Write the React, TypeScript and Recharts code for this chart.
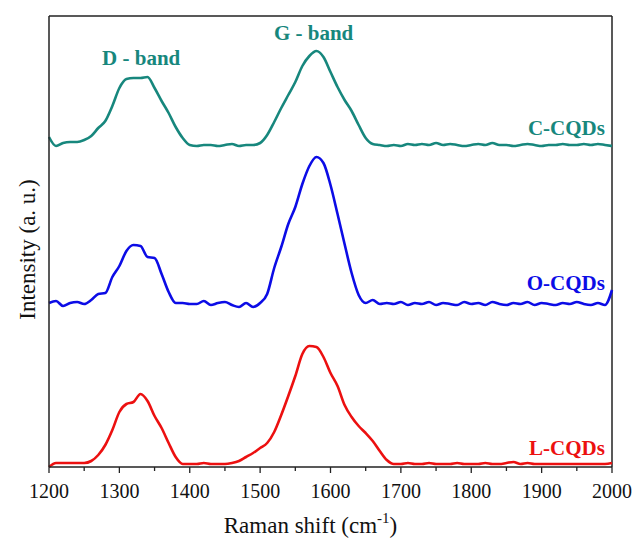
import { Label, Line, LineChart, ReferenceDot, ReferenceLine, XAxis, YAxis } from 'recharts';

// Raman shift (cm-1), every 10 from 1200 to 2000
const shifts = [
  1200, 1210, 1220, 1230, 1240, 1250, 1260, 1270, 1280, 1290, 1300, 1310, 1320, 1330, 1340, 1350, 1360,
  1370, 1380, 1390, 1400, 1410, 1420, 1430, 1440, 1450, 1460, 1470, 1480, 1490, 1500, 1510, 1520, 1530,
  1540, 1550, 1560, 1570, 1580, 1590, 1600, 1610, 1620, 1630, 1640, 1650, 1660, 1670, 1680, 1690, 1700,
  1710, 1720, 1730, 1740, 1750, 1760, 1770, 1780, 1790, 1800, 1810, 1820, 1830, 1840, 1850, 1860, 1870,
  1880, 1890, 1900, 1910, 1920, 1930, 1940, 1950, 1960, 1970, 1980, 1990, 2000,
];

// stacked intensities (a.u.), offset per sample as in the figure
const cCQDs = [
  330, 321, 324, 325, 325, 327, 331, 339, 346, 361, 379, 388, 389, 389, 390, 379, 366,
  354, 340, 329, 322, 321, 322, 322, 321, 322, 323, 321, 322, 322, 324, 332, 345, 359,
  372, 385, 401, 411, 416, 410, 395, 380, 367, 356, 342, 329, 323, 322, 321, 322, 321,
  323, 322, 323, 322, 324, 322, 323, 322, 321, 322, 323, 322, 324, 322, 322, 321, 322,
  323, 322, 321, 322, 322, 323, 322, 322, 323, 322, 323, 322, 321,
];

const oCQDs = [
  164, 166, 161, 164, 165, 163, 167, 173, 174, 190, 201, 216, 222, 221, 210, 209, 193,
  175, 164, 164, 163, 163, 166, 162, 164, 165, 162, 160, 164, 160, 164, 173, 199, 220,
  243, 260, 283, 301, 310, 304, 282, 253, 223, 194, 172, 164, 167, 163, 164, 163, 165,
  162, 164, 163, 165, 162, 164, 163, 162, 165, 163, 164, 162, 165, 163, 162, 164, 163,
  165, 162, 164, 163, 162, 164, 163, 165, 163, 162, 164, 162, 177,
];

const lCQDs = [
  0, 4, 4, 4, 4, 4, 6, 12, 22, 37, 55, 63, 65, 73, 66, 51, 39,
  24, 10, 3, 3, 3, 4, 3, 3, 3, 4, 6, 10, 14, 19, 24, 35, 52,
  71, 91, 113, 121, 120, 110, 94, 81, 62, 50, 41, 34, 26, 16, 7, 3, 3,
  4, 3, 3, 4, 3, 3, 3, 4, 3, 3, 3, 4, 3, 3, 4, 5, 3,
  4, 3, 3, 3, 3, 3, 3, 3, 3, 3, 3, 3, 4,
];

const xTicks = [1200, 1250, 1300, 1350, 1400, 1450, 1500, 1550, 1600, 1650, 1700, 1750, 1800, 1850, 1900, 1950, 2000];

const FONT = 'Liberation Serif, Tinos, DejaVu Serif, serif';
const TEAL = '#17877d';
const BLUE = '#0c0ce6';
const RED = '#ec1010';

const data = shifts.map((shift, i) => ({ shift, c: cCQDs[i], o: oCQDs[i], l: lCQDs[i] }));

function XTick({ x, y, payload }: any) {
  const major = payload.value % 100 === 0;
  return (
    <g>
      <line x1={x} x2={x} y1={y} y2={y + (major ? 6 : 4)} stroke="#222" strokeWidth={1.3} />
      {major && (
        <text x={x} y={y + 31} textAnchor="middle" style={{ fontFamily: FONT, fontSize: 20 }} fill="#111">
          {payload.value}
        </text>
      )}
    </g>
  );
}

function tagText(text: string, color: string, anchor: 'middle' | 'end') {
  return ({ viewBox }: any) => (
    <text
      x={viewBox.x}
      y={viewBox.y}
      textAnchor={anchor}
      style={{ fontFamily: FONT, fontSize: 21, fontWeight: 'bold' }}
      fill={color}
    >
      {text}
    </text>
  );
}

export default function App() {
  return (
    <div style={{ position: 'absolute', left: 0, top: 0, width: 635, height: 538, background: '#fff' }}>
      <LineChart width={635} height={538} data={data} margin={{ top: 16, right: 23, bottom: 0, left: 0 }}>
        <XAxis
          dataKey="shift"
          type="number"
          domain={[1200, 2000]}
          ticks={xTicks}
          interval={0}
          height={71}
          tickSize={0}
          tickMargin={0}
          tickLine={false}
          tick={<XTick />}
          axisLine={{ stroke: '#222', strokeWidth: 1.5 }}
        >
          <Label
            content={({ viewBox }: any) => (
              <text
                x={viewBox.x + viewBox.width / 2 - 20}
                y={viewBox.y + 66}
                textAnchor="middle"
                style={{ fontFamily: FONT, fontSize: 23 }}
                fill="#111"
              >
                Raman shift (cm
                <tspan dy={-10} style={{ fontSize: 15 }}>-1</tspan>
                <tspan dy={10}>)</tspan>
              </text>
            )}
          />
        </XAxis>
        <YAxis
          type="number"
          domain={[0, 451]}
          width={49}
          tick={false}
          tickLine={false}
          axisLine={{ stroke: '#222', strokeWidth: 1.5 }}
        >
          <Label
            content={({ viewBox }: any) => (
              <text
                x={27}
                y={viewBox.y + viewBox.height / 2 + 8}
                transform={`rotate(-90, 27, ${viewBox.y + viewBox.height / 2 + 8})`}
                textAnchor="middle"
                dominantBaseline="central"
                style={{ fontFamily: FONT, fontSize: 23 }}
                fill="#111"
              >
                Intensity (a. u.)
              </text>
            )}
          />
        </YAxis>
        <ReferenceLine y={451} stroke="#222" strokeWidth={1.5} />
        <ReferenceLine x={2000} stroke="#222" strokeWidth={1.5} />
        <Line type="monotone" dataKey="c" stroke={TEAL} strokeWidth={2.6} dot={false} isAnimationActive={false} />
        <Line type="monotone" dataKey="o" stroke={BLUE} strokeWidth={2.6} dot={false} isAnimationActive={false} />
        <Line type="monotone" dataKey="l" stroke={RED} strokeWidth={2.6} dot={false} isAnimationActive={false} />
        <ReferenceDot x={1331} y={402} r={0} ifOverflow="visible" label={{ content: tagText('D - band', TEAL, 'middle') }} />
        <ReferenceDot x={1576} y={427} r={0} ifOverflow="visible" label={{ content: tagText('G - band', TEAL, 'middle') }} />
        <ReferenceDot x={1990} y={332} r={0} ifOverflow="visible" label={{ content: tagText('C-CQDs', TEAL, 'end') }} />
        <ReferenceDot x={1990} y={177} r={0} ifOverflow="visible" label={{ content: tagText('O-CQDs', BLUE, 'end') }} />
        <ReferenceDot x={1990} y={12} r={0} ifOverflow="visible" label={{ content: tagText('L-CQDs', RED, 'end') }} />
      </LineChart>
    </div>
  );
}
